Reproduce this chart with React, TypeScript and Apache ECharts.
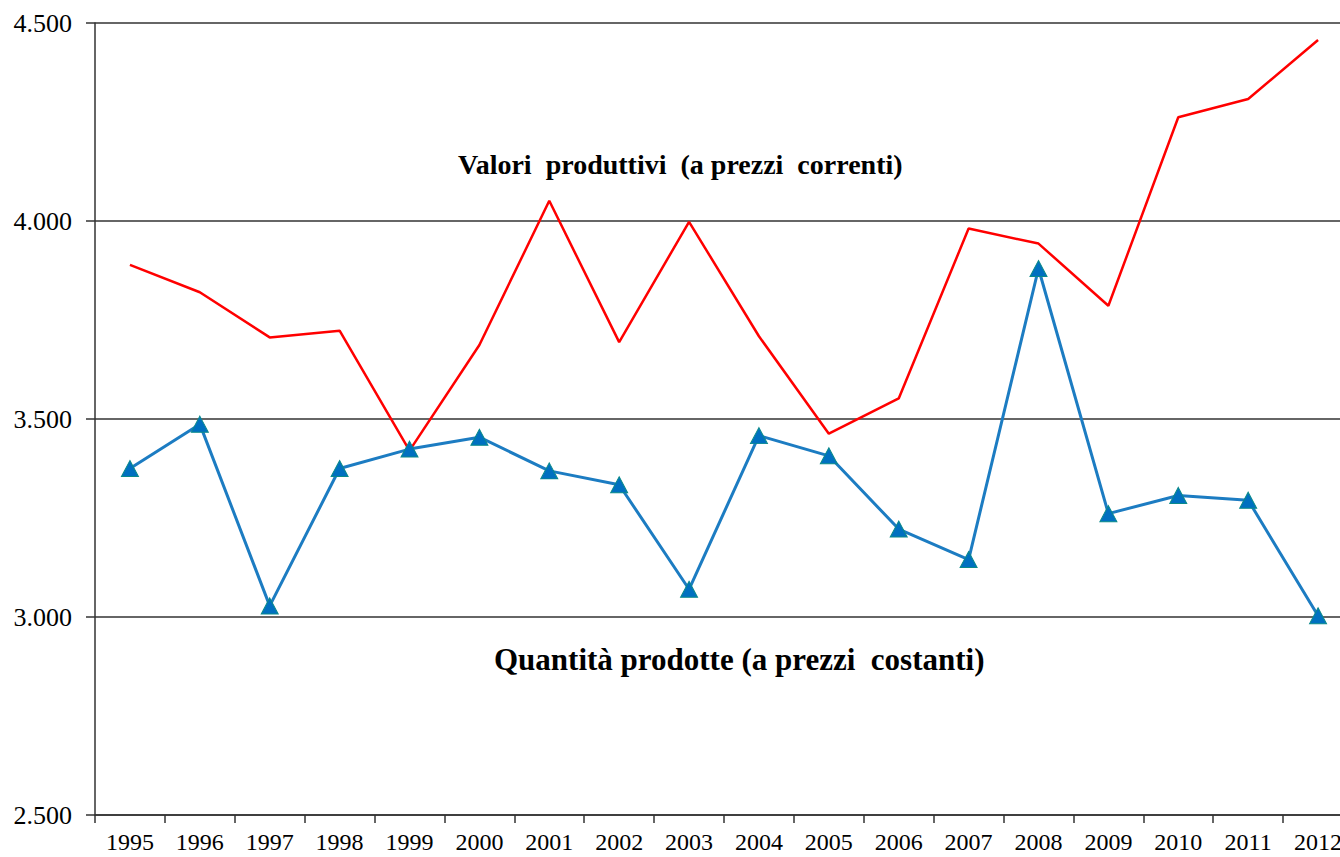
import React, { useEffect, useRef } from "react";
import * as echarts from "echarts";

const years = [
  "1995", "1996", "1997", "1998", "1999", "2000", "2001", "2002", "2003",
  "2004", "2005", "2006", "2007", "2008", "2009", "2010", "2011", "2012",
];
const valoriCorrenti = [
  3889, 3820, 3706, 3723, 3420, 3687, 4051, 3694, 3998,
  3709, 3463, 3552, 3981, 3943, 3786, 4262, 4308, 4457,
];
const quantitaCostanti = [
  3375, 3487, 3028, 3375, 3424, 3454, 3369, 3334, 3070,
  3458, 3407, 3222, 3145, 3880, 3261, 3307, 3295, 3003,
];
const yTicks = [2500, 3000, 3500, 4000, 4500];
const labelValori = "Valori  produttivi  (a prezzi  correnti)";
const labelQuantita = "Quantità prodotte (a prezzi  costanti)";

const fmt = (v: number) => {
  const th = Math.floor(v / 1000);
  const rest = String(v % 1000).padStart(3, "0");
  return th + "." + rest;
};

export default function App() {
  const ref = useRef<HTMLDivElement>(null);
  useEffect(() => {
    if (!ref.current) return;
    const chart = echarts.init(ref.current, undefined, { renderer: "svg" });
    const font = "'Liberation Serif', 'Times New Roman', serif";
    chart.setOption({
      animation: false,
      backgroundColor: "#ffffff",
      grid: {
        left: 95,
        width: 1258,
        top: 23,
        bottom: 42,
        containLabel: false,
        outerBoundsMode: "none",
      },
      xAxis: {
        type: "category",
        data: years,
        boundaryGap: true,
        axisLine: { show: true, lineStyle: { color: "#333", width: 1.5 } },
        axisTick: { show: true, length: 8, lineStyle: { color: "#333", width: 1.5 } },
        axisLabel: {
          color: "#000",
          fontFamily: font,
          fontSize: 24,
          lineHeight: 24,
          margin: 15,
        },
        splitLine: { show: false },
      },
      yAxis: {
        type: "value",
        min: yTicks[0],
        max: yTicks[yTicks.length - 1],
        interval: yTicks[1] - yTicks[0],
        axisLine: { show: true, lineStyle: { color: "#333", width: 1.5 } },
        axisTick: { show: true, inside: false, length: 9, lineStyle: { color: "#333", width: 1.5 } },
        axisLabel: {
          color: "#000",
          fontFamily: font,
          fontSize: 26,
          margin: 23,
          formatter: (v: number) => fmt(v),
        },
        splitLine: { show: true, lineStyle: { color: "#333", width: 1.5 } },
      },
      graphic: [
        {
          type: "text",
          x: 458,
          y: 164,
          style: {
            text: labelValori,
            font: `bold 28px ${font}`,
            fill: "#000",
            textAlign: "left",
            textVerticalAlign: "middle",
          },
        },
        {
          type: "text",
          x: 494,
          y: 659,
          style: {
            text: labelQuantita,
            font: `bold 31px ${font}`,
            fill: "#000",
            textAlign: "left",
            textVerticalAlign: "middle",
          },
        },
      ],
      series: [
        {
          name: "Valori produttivi (a prezzi correnti)",
          type: "line",
          data: valoriCorrenti,
          showSymbol: false,
          symbol: "none",
          lineStyle: { color: "#ff0000", width: 2.5 },
          itemStyle: { color: "#ff0000" },
          z: 2,
        },
        {
          name: "Quantità prodotte (a prezzi costanti)",
          type: "line",
          data: quantitaCostanti,
          symbol: "triangle",
          symbolSize: [17, 16],
          lineStyle: { color: "#1c7cc2", width: 3 },
          itemStyle: { color: "#0070c0", borderColor: "#0a8a8a", borderWidth: 1 },
          z: 3,
        },
      ],
    });
    return () => chart.dispose();
  }, []);
  return (
    <div
      ref={ref}
      style={{ position: "absolute", left: 0, top: 0, width: 1340, height: 857 }}
    />
  );
}
